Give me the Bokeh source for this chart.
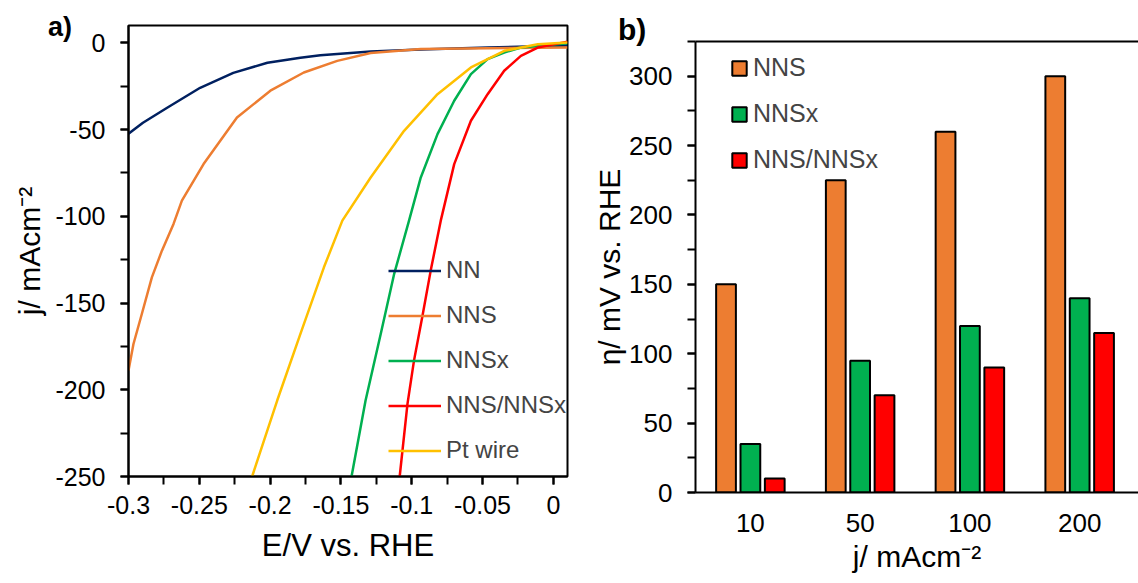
from bokeh.plotting import figure
from bokeh.models import (Range1d, SingleIntervalTicker, FixedTicker, Legend, LegendItem,
                          LinearAxis, CustomJSTickFormatter, Div)
from bokeh.embed import file_html
from bokeh.resources import INLINE

FONT = "Liberation Sans"

# ---------------- panel a) : polarisation curves ----------------
nn_E = [-0.300, -0.2898, -0.2727, -0.2494, -0.2260, -0.2019, -0.1786, -0.1645, -0.129, -0.0936, -0.0464, 0.01]
nn_j = [-52.4, -46.1, -37.4, -25.9, -17.3, -11.5, -8.6, -7.1, -5.0, -3.9, -2.7, -1.5]

nns_E = [-0.300, -0.2965, -0.2906, -0.2835, -0.2764, -0.2682, -0.2623, -0.247, -0.2234, -0.1998,
         -0.1762, -0.1526, -0.129, -0.0936, -0.046, 0.01]
nns_j = [-188.9, -173.6, -156.3, -135.2, -119.8, -104.4, -91.0, -69.9, -43.0, -27.6,
         -17.1, -10.4, -5.9, -3.6, -3.1, -2.7]

nnsx_E = [-0.1425, -0.1326, -0.1219, -0.1125, -0.1019, -0.0936, -0.0818, -0.070, -0.0582,
          -0.0464, -0.0347, -0.0229, 0.01]
nnsx_j = [-250.0, -206.2, -167.8, -133.5, -102.5, -77.6, -52.6, -33.4, -18.0,
          -9.4, -5.6, -2.7, -0.2]

mix_E = [-0.1085, -0.103, -0.0984, -0.0924, -0.0866, -0.0795, -0.070, -0.0582, -0.0464,
         -0.0347, -0.0229, -0.011, 0.01]
mix_j = [-250.0, -208.1, -183.2, -157.3, -131.3, -102.5, -69.9, -44.9, -29.6,
         -16.1, -7.5, -2.7, 0.7]

pt_E = [-0.2127, -0.195, -0.1786, -0.162, -0.149, -0.129, -0.1054, -0.0818, -0.0582,
        -0.0346, -0.011, 0.01]
pt_j = [-250.0, -206.2, -167.8, -129.4, -102.5, -77.6, -50.7, -29.6, -14.2,
        -4.6, -0.8, 0.2]

curve_names = ["NN", "NNS", "NNSx", "NNS/NNSx", "Pt wire"]
curve_colors = ["#002060", "#ED7D31", "#00B050", "#FF0000", "#FFC000"]

e_ticks = [-0.3, -0.25, -0.2, -0.15, -0.1, -0.05, 0.0]
e_minor = [-0.3, -0.275, -0.25, -0.225, -0.2, -0.175, -0.15, -0.125, -0.1, -0.075, -0.05, -0.025, 0.0]

# ---------------- panel b) : overpotentials ----------------
j_cats = ["10", "50", "100", "200"]
eta_nns = [150, 225, 260, 300]
eta_nnsx = [35, 95, 120, 140]
eta_mix = [10, 70, 90, 115]
bar_names = ["NNS", "NNSx", "NNS/NNSx"]
bar_colors = ["#ED7D31", "#00B050", "#FF0000"]


def style_axis(ax, size, title_size):
    ax.axis_line_width = 2
    ax.axis_line_color = "black"
    ax.major_tick_line_width = 2
    ax.minor_tick_line_width = 2
    ax.major_tick_line_color = "black"
    ax.minor_tick_line_color = "black"
    ax.major_tick_in = 0
    ax.minor_tick_in = 0
    ax.major_tick_out = 8
    ax.minor_tick_out = 8
    ax.major_label_text_font = FONT
    ax.major_label_text_font_size = size
    ax.major_label_text_color = "black"
    ax.axis_label_text_font = FONT
    ax.axis_label_text_font_size = title_size
    ax.axis_label_text_font_style = "normal"
    ax.axis_label_text_color = "black"


fmt = CustomJSTickFormatter(code="return String(Math.round(tick*1000)/1000)")

p1 = figure(width=590, height=583, x_range=Range1d(-0.3, 0.01), y_range=Range1d(-250, 10),
            output_backend="svg", toolbar_location=None,
            min_border_left=128, min_border_right=23, min_border_top=25, min_border_bottom=107)
p1.xgrid.visible = False
p1.ygrid.visible = False
p1.outline_line_color = "black"
p1.outline_line_width = 2
p1.background_fill_color = "white"
p1.border_fill_color = "white"

p1.xaxis.ticker = FixedTicker(ticks=e_ticks, minor_ticks=e_minor)
p1.yaxis.ticker = SingleIntervalTicker(interval=50, num_minor_ticks=2)
p1.xaxis.formatter = fmt
p1.yaxis.formatter = fmt
style_axis(p1.xaxis[0], "25px", "31px")
style_axis(p1.yaxis[0], "25px", "30px")
p1.xaxis.major_label_standoff = 11
p1.yaxis.major_label_standoff = 15
p1.xaxis.axis_label = "E/V vs. RHE"
p1.yaxis.axis_label = "j/ mAcm\u207b\u00b2"
p1.xaxis.axis_label_standoff = 11
p1.yaxis.axis_label_standoff = 6

series = [(nn_E, nn_j), (nns_E, nns_j), (nnsx_E, nnsx_j), (mix_E, mix_j), (pt_E, pt_j)]
renderers = []
for (ex, jy), col in zip(series, curve_colors):
    renderers.append(p1.line(ex, jy, line_color=col, line_width=2.5))
items1 = [LegendItem(label=n, renderers=[r]) for n, r in zip(curve_names, renderers)]
leg1 = Legend(items=items1, location=(260, 12), glyph_width=53, glyph_height=27, label_height=27,
              spacing=17, padding=0, margin=0, border_line_color=None, background_fill_alpha=0,
              label_text_font=FONT, label_text_font_size="24px", label_standoff=5)
p1.add_layout(leg1)

# ---------------- right figure ----------------
p2 = figure(width=548, height=583, x_range=Range1d(-0.5, 3.536), y_range=Range1d(0, 325),
            output_backend="svg", toolbar_location=None,
            min_border_left=104, min_border_right=0, min_border_top=41, min_border_bottom=91)
p2.xgrid.visible = False
p2.ygrid.visible = False
p2.outline_line_color = None
p2.background_fill_color = "white"
p2.border_fill_color = "white"

p2.yaxis.ticker = SingleIntervalTicker(interval=50, num_minor_ticks=2)
p2.yaxis.formatter = fmt
p2.xaxis.ticker = FixedTicker(ticks=list(range(len(j_cats))))
p2.xaxis.major_label_overrides = {i: c for i, c in enumerate(j_cats)}
style_axis(p2.xaxis[0], "26px", "30px")
style_axis(p2.yaxis[0], "26px", "30px")
p2.xaxis.major_tick_out = 0
p2.xaxis.minor_tick_out = 0
p2.xaxis.major_label_standoff = 21
p2.yaxis.major_label_standoff = 15
p2.xaxis.axis_label = "j/ mAcm\u207b\u00b2"
p2.yaxis.axis_label = "\u03b7/ mV vs. RHE"
p2.xaxis.axis_label_standoff = 5
p2.yaxis.axis_label_standoff = 0

top_axis = LinearAxis(ticker=FixedTicker(ticks=[]), major_label_text_font_size="0px",
                      major_tick_line_color=None, minor_tick_line_color=None,
                      axis_line_width=2, axis_line_color="black")
p2.add_layout(top_axis, "above")

offsets = [-0.222, 0.0, 0.222]
bar_series = [eta_nns, eta_nnsx, eta_mix]
items2 = []
for vals, off, col, name in zip(bar_series, offsets, bar_colors, bar_names):
    xs = [i + off for i in range(len(j_cats))]
    r = p2.vbar(x=xs, top=vals, bottom=0, width=0.18, fill_color=col, line_color="black",
                line_width=2)
    items2.append(LegendItem(label=name, renderers=[r]))
leg2 = Legend(items=items2, location=(35, 318), glyph_width=18, glyph_height=18, label_height=29,
              spacing=17, padding=0, margin=0, border_line_color=None, background_fill_alpha=0,
              label_text_font=FONT, label_text_font_size="25px", label_standoff=5)
p2.add_layout(leg2)

# panel letters (outside the plot frames)
def panel_letter(txt, left, top, size):
    return Div(text=txt, styles={"position": "absolute", "left": f"{left}px", "top": f"{top}px",
                                 "font-family": FONT, "font-size": f"{size}px",
                                 "font-weight": "bold", "color": "black", "line-height": "1",
                                 "margin": "0", "padding": "0"})

div_a = panel_letter("a)", 48, 14, 27)
div_b = panel_letter("b)", 618, 15, 30)

html = file_html([p1, p2, div_a, div_b], INLINE)
html = html.replace("</head>",
                    "<style>html,body{margin:0;padding:0;} body{display:flex;flex-direction:row;"
                    "align-items:flex-start;position:relative;}</style></head>", 1)
open("out.html", "w").write(html)
